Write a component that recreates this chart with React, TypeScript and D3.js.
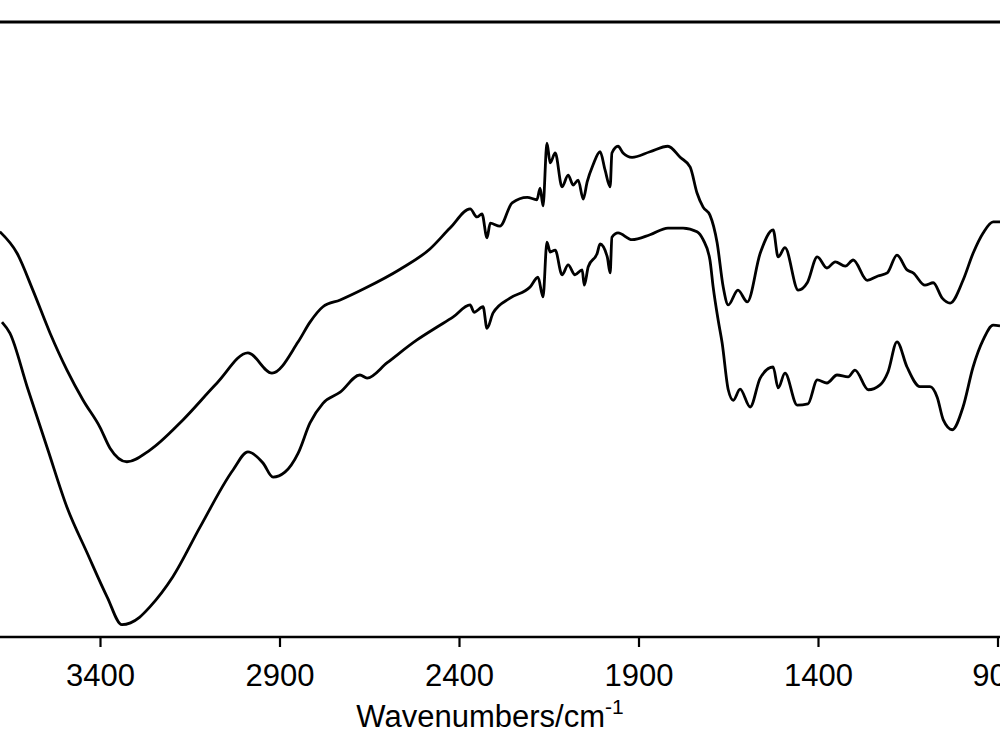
import React, { useRef, useEffect } from 'react';
import * as d3 from 'd3';

// wavenumbers (cm-1), left to right
const upperWave = [3679, 3631, 3587, 3539, 3492, 3447, 3400, 3372, 3325, 3261, 3169, 3074, 2988, 2921, 2848, 2815, 2779, 2731, 2662, 2564, 2481, 2425, 2369, 2350, 2336, 2322, 2313, 2286, 2252, 2210, 2183, 2174, 2166, 2155, 2146, 2132, 2113, 2096, 2082, 2068, 2054, 2043, 2027, 2007, 1993, 1979, 1974, 1957, 1943, 1918, 1868, 1818, 1784, 1756, 1737, 1720, 1701, 1681, 1664, 1650, 1623, 1597, 1561, 1525, 1511, 1492, 1455, 1430, 1402, 1375, 1352, 1324, 1302, 1263, 1233, 1207, 1180, 1152, 1135, 1102, 1079, 1054, 1032, 996, 968, 940, 912, 893];
const upperValue = [65.9, 62.4, 56.4, 49.4, 43.4, 38.5, 34.1, 30.7, 28.5, 30.4, 35.3, 41.3, 46.2, 42.9, 48.0, 51.2, 53.7, 54.8, 56.7, 59.8, 63.1, 66.5, 69.6, 68.3, 68.8, 64.9, 67.3, 66.8, 70.6, 71.5, 71.1, 73.0, 70.1, 80.3, 77.1, 78.7, 73.2, 75.1, 73.5, 74.3, 71.2, 74.0, 76.7, 78.9, 75.9, 73.2, 78.7, 79.8, 78.7, 78.0, 78.9, 79.8, 78.0, 76.4, 72.2, 69.9, 68.6, 64.1, 56.9, 54.0, 56.4, 54.5, 62.4, 66.2, 61.8, 63.3, 56.4, 57.6, 61.8, 60.0, 61.0, 60.3, 61.3, 58.0, 58.7, 59.2, 62.1, 59.7, 59.2, 57.2, 57.6, 55.1, 54.3, 58.0, 62.4, 65.7, 67.5, 67.5];

const lowerWave = [3673, 3651, 3603, 3545, 3492, 3436, 3380, 3339, 3315, 3290, 3261, 3197, 3121, 3029, 2988, 2946, 2918, 2885, 2848, 2815, 2779, 2731, 2676, 2656, 2600, 2517, 2461, 2417, 2369, 2358, 2333, 2322, 2305, 2258, 2202, 2180, 2166, 2155, 2146, 2132, 2113, 2096, 2077, 2057, 2051, 2040, 2015, 2007, 1987, 1979, 1974, 1957, 1918, 1868, 1818, 1776, 1737, 1720, 1701, 1692, 1678, 1667, 1650, 1636, 1617, 1589, 1561, 1525, 1511, 1492, 1458, 1428, 1402, 1375, 1347, 1316, 1297, 1260, 1227, 1205, 1180, 1152, 1116, 1088, 1068, 1051, 1026, 996, 968, 940, 912, 893];
const lowerValue = [51.2, 49.4, 40.7, 30.4, 21.1, 13.7, 6.5, 2.0, 2.3, 3.2, 4.9, 9.8, 17.9, 27.2, 30.1, 28.3, 26.0, 26.8, 29.9, 34.8, 38.0, 39.8, 42.6, 42.1, 44.6, 48.3, 50.4, 52.0, 54.0, 52.8, 53.7, 50.2, 52.7, 55.1, 56.9, 58.5, 55.3, 64.2, 62.6, 62.9, 58.9, 60.5, 58.9, 59.7, 57.2, 60.2, 62.4, 63.9, 61.8, 59.2, 65.0, 65.7, 64.6, 65.4, 66.5, 66.5, 65.9, 64.6, 61.3, 56.9, 51.5, 47.8, 40.2, 38.5, 40.3, 37.4, 42.1, 43.9, 40.5, 42.9, 37.7, 37.9, 41.8, 41.3, 42.6, 42.3, 43.4, 40.2, 41.0, 43.1, 48.0, 43.9, 40.7, 40.7, 39.0, 35.3, 33.7, 37.4, 43.9, 48.3, 50.7, 50.6];

const xTicks = [3400, 2900, 2400, 1900, 1400, 900];

const W = 1000;
const H = 750;

const App: React.FC = () => {
  const svgRef = useRef<SVGSVGElement>(null);

  useEffect(() => {
    if (!svgRef.current) return;
    const svg = d3.select(svgRef.current);
    svg.selectAll('*').remove();

    const font = '"Liberation Sans", Arial, sans-serif';
    const top = 22;
    const bottom = 637;

    const x = d3.scaleLinear().domain([3400, 900]).range([100, 997.5]);
    const y = d3.scaleLinear().domain([0, 100]).range([bottom, top]);

    // frame top line (runs off both sides of the picture)
    svg.append('line')
      .attr('x1', x(3800)).attr('x2', x(600))
      .attr('y1', top).attr('y2', top)
      .attr('stroke', '#000').attr('stroke-width', 3);

    // bottom axis
    const axis = d3.axisBottom(x)
      .tickValues(xTicks)
      .tickSize(10)
      .tickSizeOuter(0)
      .tickFormat(d3.format('d'));

    const gx = svg.append('g')
      .attr('transform', `translate(0,${bottom})`)
      .call(axis);
    gx.select('.domain').remove();
    gx.append('line')
      .attr('x1', x(3800)).attr('x2', x(600))
      .attr('stroke', '#000').attr('stroke-width', 2.5);
    gx.selectAll('.tick line').attr('stroke', '#000').attr('stroke-width', 2.2);
    gx.selectAll('.tick text')
      .attr('y', 49)
      .attr('dy', 0)
      .attr('fill', '#000')
      .style('font-family', font)
      .style('font-size', '31px');

    // axis title
    const title = svg.append('text')
      .attr('x', 490)
      .attr('y', 727)
      .attr('text-anchor', 'middle')
      .attr('fill', '#000')
      .style('font-family', font)
      .style('font-size', '31px');
    title.append('tspan').text('Wavenumbers/cm');
    title.append('tspan').attr('dy', -13).style('font-size', '21px').text('-1');

    const line = d3.line<[number, number]>()
      .x(d => x(d[0]))
      .y(d => y(d[1]))
      .curve(d3.curveMonotoneX);

    const upper: [number, number][] = upperWave.map((w, i) => [w, upperValue[i]]);
    const lower: [number, number][] = lowerWave.map((w, i) => [w, lowerValue[i]]);

    [upper, lower].forEach(series => {
      svg.append('path')
        .datum(series.slice().reverse())
        .attr('d', line)
        .attr('fill', 'none')
        .attr('stroke', '#000')
        .attr('stroke-width', 2.8)
        .attr('stroke-linejoin', 'round');
    });
  }, []);

  return (
    <svg
      ref={svgRef}
      width={W}
      height={H}
      style={{ position: 'absolute', left: 0, top: 0, background: '#fff' }}
    />
  );
};

export default App;
